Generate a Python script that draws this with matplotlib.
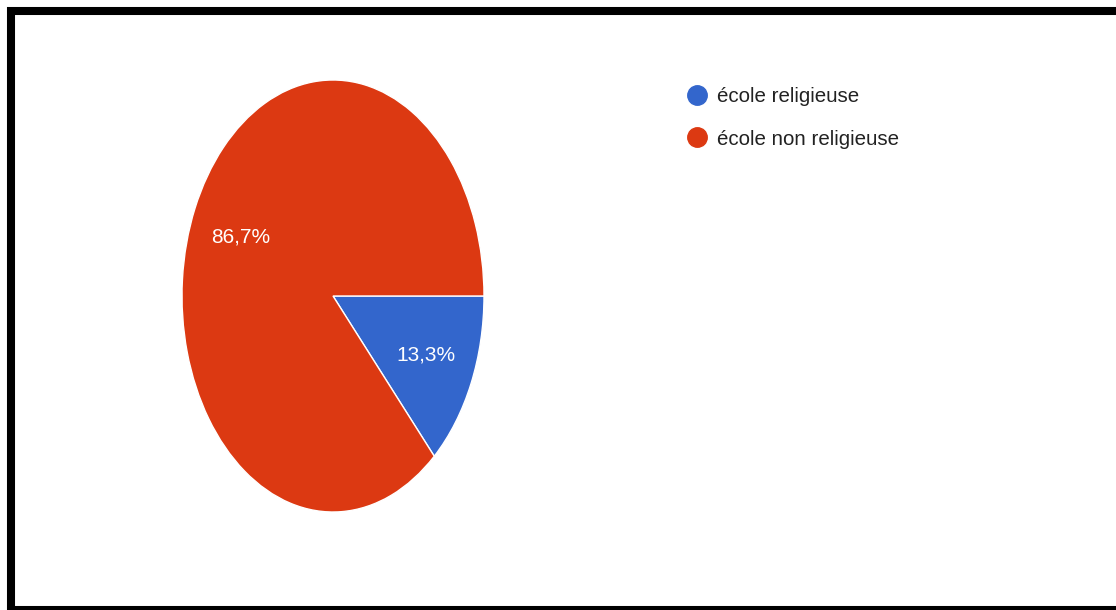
import matplotlib.pyplot as plt
from matplotlib.lines import Line2D
from matplotlib.patches import Rectangle

labels = ["école religieuse", "école non religieuse"]
values = [13.3, 86.7]
colors = ["#3366CC", "#DC3912"]

W, H = 1116, 610
fig = plt.figure(figsize=(W / 100, H / 100), dpi=100)
fig.patch.set_facecolor("white")
font = "Liberation Sans"

# pie is stretched vertically: 151 px across per unit radius, 216 px down
rx, ry = 151, 216
cx, cy = 333, 296
ax = fig.add_axes([(cx - 1.1 * rx) / W, (H - cy - 1.1 * ry) / H,
                   2.2 * rx / W, 2.2 * ry / H])
wedges, texts, autotexts = ax.pie(
    values, colors=colors, startangle=0, counterclock=False,
    autopct=lambda p: f"{p:.1f}%".replace(".", ","), pctdistance=0.67,
    wedgeprops=dict(edgecolor="white", linewidth=1),
    textprops=dict(color="white", fontsize=15, family=font))
ax.set_aspect("auto")
ax.set_xlim(-1.1, 1.1)
ax.set_ylim(-1.1, 1.1)

fs = 14.8
handles = [Line2D([], [], marker="o", linestyle="none", markersize=14,
                  markerfacecolor=c, markeredgecolor=c) for c in colors]
leg = fig.legend(handles, labels, loc="center left",
                 bbox_to_anchor=(685 / W, 1 - 118 / H),
                 frameon=False, handlelength=1.2,
                 handletextpad=0.38, labelspacing=1.12,
                 borderpad=0, borderaxespad=0,
                 prop=dict(family=font, size=fs))
for t in leg.get_texts():
    t.set_color("#222222")

# black frame around the chart, open on the right side
fig.patches.append(Rectangle((11 / W, 0), 1.2, 1 - 11 / H,
                             transform=fig.transFigure, fill=False,
                             edgecolor="black", linewidth=5.8, clip_on=False))

fig.savefig("out.png", dpi=100)
